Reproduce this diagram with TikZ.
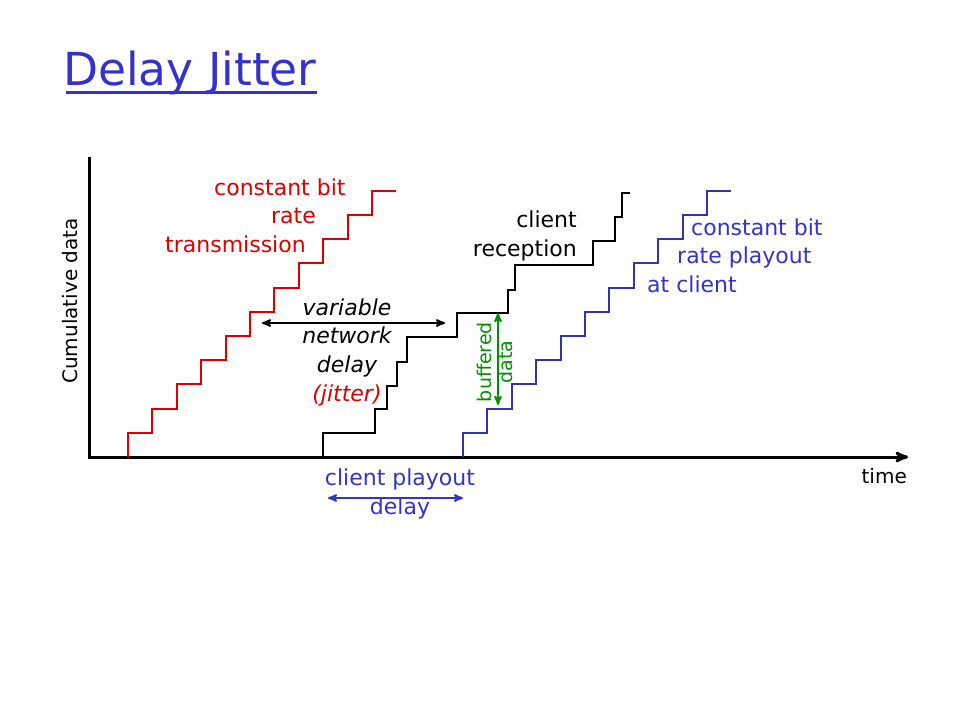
\documentclass[tikz,border=0pt]{standalone}
\usepackage{fontspec}
\setmainfont{DejaVu Sans}
\usetikzlibrary{arrows}
\usetikzlibrary{positioning}

\definecolor{cbrred}{RGB}{221,0,0}
\definecolor{titleblue}{RGB}{51,51,204}
\definecolor{stairblue}{RGB}{51,51,170}
\definecolor{bufgreen}{RGB}{0,145,0}

\begin{document}
\begin{tikzpicture}[x=1pt,y=-1pt,>=stealth',
  axis/.style={line width=3pt},
  stair/.style={line width=2pt},
  gap arrow/.style={<->,line width=2pt},
  slide text/.style={inner sep=0pt,font=\fontsize{22}{28.6}\selectfont},
  small text/.style={inner sep=0pt,font=\fontsize{20}{24}\selectfont}]

  \useasboundingbox (0,0) rectangle (960,720);

  % title
  \node[inner sep=0pt,anchor=base west,text=titleblue,font=\fontsize{45.5}{50}\selectfont] (title) at (63,85) {Delay Jitter};
  \draw[titleblue,line width=3pt] ([shift={(3,7)}]title.base west) -- ([shift={(0,7)}]title.base east);

  % axes
  \coordinate (ytop) at (89,157);
  \coordinate (origin) at (89,457);
  \coordinate (xend) at (908,457);
  \draw[axis,->] (ytop) -- (origin) -- (xend);
  \node[small text,rotate=90] (ylabel) at (70.5,301) {Cumulative data};
  \node[small text,anchor=base east] (time) at (907,483) {time};

  % staircases
  \draw[stair,cbrred] (128,457) foreach \k in {1,...,11} { -- ++(0,-24.2) -- ++(24.4,0) };
  \draw[stair] (323,457) |- (375,433) |- (387,409) |- (397,386) |- (407,362) |- (457,337)
    |- (508,313) |- (515,290) |- (593,265) |- (615,241) |- (622,217) |- (630,193);
  \draw[stair,stairblue] (463,457) foreach \k in {1,...,11} { -- ++(0,-24.2) -- ++(24.4,0) };

  % labels
  \node[slide text,text=cbrred,anchor=base west] (send1) at (214,195) {constant bit};
  \node[slide text,text=cbrred,anchor=base west] (send2) at (271,223.5) {rate};
  \node[slide text,text=cbrred,anchor=base west] (send3) at (165,252) {transmission};
  \node[slide text,align=right,anchor=east] (reception) at (577,236) {client\\reception};
  \node[slide text,text=titleblue,anchor=base west] (play1) at (691,235) {constant bit};
  \node[slide text,text=titleblue,anchor=base west] (play2) at (677,263.5) {rate playout};
  \node[slide text,text=titleblue,anchor=base west] (play3) at (647,292) {at client};
  \node[slide text,align=center,font=\fontsize{22}{28.7}\selectfont\itshape] (jitter) at (347,352)
    {variable\\network\\delay\\\textcolor{cbrred}{(jitter)}};
  \node[slide text,text=bufgreen,align=center,rotate=90,font=\fontsize{19}{21}\selectfont] (buffered) at (494.7,362) {buffered\\data};
  \node[slide text,text=titleblue,align=center,font=\fontsize{22}{28.3}\selectfont] (playout) at (400,494) {client playout\\delay};

  % delays
  \coordinate (netl) at (262,323);
  \coordinate (netr) at (445,323);
  \draw[gap arrow] (netl) -- (netr);
  \coordinate (buft) at (498,313);
  \coordinate (bufb) at (498,405);
  \draw[gap arrow,bufgreen] (buft) -- (bufb);
  \coordinate (playl) at (328,498);
  \coordinate (playr) at (463,498);
  \draw[gap arrow,titleblue] (playl) -- (playr);
\end{tikzpicture}
\end{document}
